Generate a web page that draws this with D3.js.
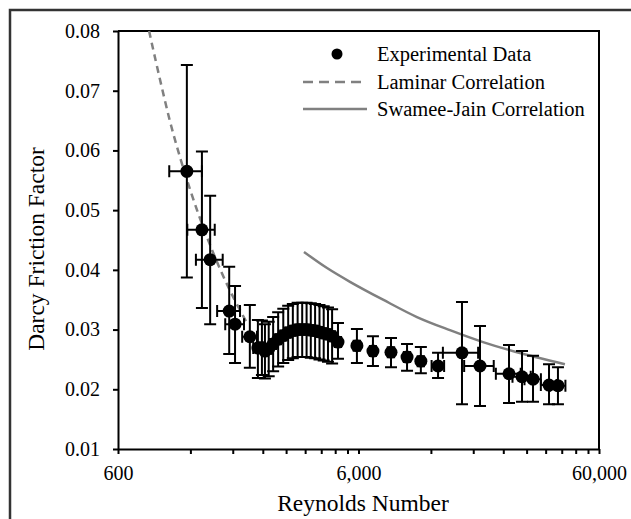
<!DOCTYPE html>
<html>
<head>
<meta charset="utf-8">
<script src="https://cdn.jsdelivr.net/npm/d3@7"></script>
<style>
  body { margin: 0; background: #fff; }
  svg { display: block; font-family: "Liberation Serif", "Times New Roman", serif; }
</style>
</head>
<body>
<div id="chart"></div>
<script>
// values

// experimental data: Reynolds number, friction factor, upper / lower error, +- Re error
var expRe = [1160, 1340, 1450, 1740, 1840, 2120, 2290,
  2380, 2450, 2540, 2650, 2780, 2920, 3060, 3200, 3350, 3500, 3650, 3800, 3960, 4130, 4300, 4480, 4660,
  4930, 5910, 6890, 8190, 9550, 10900, 12850, 16160, 19200, 25350, 28710, 31900, 37180, 40500];
var expF = [0.0565, 0.0467, 0.0417, 0.0331, 0.0309, 0.0288, 0.0269,
  0.0270, 0.0264, 0.0268, 0.0276, 0.0284, 0.0290, 0.0295, 0.0298, 0.0300, 0.0300, 0.0300, 0.0299, 0.0298, 0.0296, 0.0294, 0.0292, 0.0289,
  0.0279, 0.0273, 0.0264, 0.0262, 0.0254, 0.0247, 0.0239, 0.0261, 0.0239, 0.0226, 0.0221, 0.0217, 0.0207, 0.0206];
var expFHigh = [0.0743, 0.0598, 0.0524, 0.0405, 0.0373, 0.0341, 0.0316,
  0.0315, 0.0309, 0.0313, 0.0321, 0.0329, 0.0335, 0.0340, 0.0343, 0.0345, 0.0345, 0.0345, 0.0344, 0.0343, 0.0341, 0.0339, 0.0337, 0.0334,
  0.0311, 0.0301, 0.0289, 0.0286, 0.0276, 0.0271, 0.0261, 0.0346, 0.0306, 0.0274, 0.0264, 0.0256, 0.0242, 0.0237];
var expFLow = [0.0387, 0.0336, 0.0309, 0.0259, 0.0244, 0.0236, 0.0219,
  0.0224, 0.0218, 0.0222, 0.0230, 0.0238, 0.0244, 0.0249, 0.0252, 0.0254, 0.0254, 0.0254, 0.0253, 0.0252, 0.0250, 0.0248, 0.0246, 0.0243,
  0.0251, 0.0244, 0.0239, 0.0237, 0.0231, 0.0227, 0.0219, 0.0175, 0.0172, 0.0177, 0.0179, 0.0179, 0.0175, 0.0175];
var expReErr = [180, 175, 185, 190, 165, 150, 100,
  70, 70, 75, 80, 80, 85, 90, 95, 100, 105, 110, 115, 120, 125, 130, 135, 140,
  150, 180, 200, 250, 290, 330, 770, 2700, 2700, 3000, 2500, 2500, 2800, 3000];

// laminar correlation (dashed)
var lamRe = [808, 1000, 1200, 1400, 1600, 1800, 2080];
var lamF = [0.0800, 0.0640, 0.0533, 0.0457, 0.0400, 0.0356, 0.0308];

// Swamee-Jain correlation (solid)
var sjRe = [3560, 4440, 5530, 7590, 10500, 14400, 19770, 27360, 43300];
var sjF = [0.0430, 0.0403, 0.0380, 0.0350, 0.0321, 0.0299, 0.0279, 0.0262, 0.0242];

var xTicks = [600, 1200, 1800, 2400, 3000, 3600, 4200, 4800, 5400, 6000,
  12000, 18000, 24000, 30000, 36000, 42000, 48000, 54000, 60000];
var xLabels = [600, 6000, 60000];
var yTicks = [0.01, 0.02, 0.03, 0.04, 0.05, 0.06, 0.07, 0.08];

var legendNames = ["Experimental Data", "Laminar Correlation", "Swamee-Jain Correlation"];

var width = 631, height = 519;
var svg = d3.select("#chart").append("svg")
  .attr("width", width)
  .attr("height", height);

// outer frame (cropped on right / bottom)
svg.append("rect")
  .attr("x", 10).attr("y", 10)
  .attr("width", 660).attr("height", 560)
  .attr("fill", "none")
  .attr("stroke", "#333")
  .attr("stroke-width", 2.5);

var x = d3.scaleLog().domain([600, 60000]).range([118, 599]);
var y = d3.scaleLinear().domain([0.01, 0.08]).range([449, 31]);

// plot frame top / right
svg.append("path")
  .attr("d", "M" + x.range()[0] + "," + y.range()[1] + "H" + x.range()[1] + "V" + y.range()[0])
  .attr("fill", "none")
  .attr("stroke", "#000")
  .attr("stroke-width", 2);

var fmtX = d3.format(",");
var xAxis = d3.axisBottom(x)
  .tickValues(xTicks)
  .tickSize(5)
  .tickSizeOuter(0)
  .tickPadding(12)
  .tickFormat(function(d) { return xLabels.indexOf(d) >= 0 ? fmtX(d) : ""; });

var yAxis = d3.axisLeft(y)
  .tickValues(yTicks)
  .tickSize(5)
  .tickSizeOuter(0)
  .tickPadding(13)
  .tickFormat(d3.format(".2f"));

var gx = svg.append("g")
  .attr("transform", "translate(0," + y.range()[0] + ")")
  .call(xAxis);
var gy = svg.append("g")
  .attr("transform", "translate(" + x.range()[0] + ",0)")
  .call(yAxis);

[gx, gy].forEach(function(g) {
  g.attr("font-family", null);
  g.selectAll("path, line").attr("stroke", "#000").attr("stroke-width", 2);
  g.selectAll("text")
    .attr("fill", "#000")
    .style("font-family", "'Liberation Serif', serif")
    .style("font-size", "20px");
});

// axis titles
svg.append("text")
  .attr("x", 363).attr("y", 511)
  .attr("text-anchor", "middle")
  .style("font-size", "23.5px")
  .text("Reynolds Number");

svg.append("text")
  .attr("transform", "translate(44,249) rotate(-90)")
  .attr("text-anchor", "middle")
  .style("font-size", "23.5px")
  .text("Darcy Friction Factor");

// correlation lines
var line = d3.line()
  .x(function(d) { return x(d[0]); })
  .y(function(d) { return y(d[1]); })
  .curve(d3.curveCatmullRom);

svg.append("path")
  .datum(sjRe.map(function(r, i) { return [r, sjF[i]]; }))
  .attr("d", line)
  .attr("fill", "none")
  .attr("stroke", "#808080")
  .attr("stroke-width", 2.5);

svg.append("path")
  .datum(lamRe.map(function(r, i) { return [r, lamF[i]]; }))
  .attr("d", line)
  .attr("fill", "none")
  .attr("stroke", "#808080")
  .attr("stroke-width", 2.5)
  .attr("stroke-dasharray", "7,5");

// error bars
var cap = 6;
var pts = expRe.map(function(r, i) {
  return { re: r, f: expF[i], hi: expFHigh[i], lo: expFLow[i], dr: expReErr[i] };
});

var eb = svg.append("g")
  .attr("stroke", "#000")
  .attr("stroke-width", 2)
  .attr("fill", "none");

pts.forEach(function(d) {
  var cx = x(d.re), cy = y(d.f);
  var p = d3.path();
  // vertical
  p.moveTo(cx, y(d.hi)); p.lineTo(cx, y(d.lo));
  p.moveTo(cx - cap, y(d.hi)); p.lineTo(cx + cap, y(d.hi));
  p.moveTo(cx - cap, y(d.lo)); p.lineTo(cx + cap, y(d.lo));
  // horizontal
  var x0 = x(d.re - d.dr), x1 = x(d.re + d.dr);
  p.moveTo(x0, cy); p.lineTo(x1, cy);
  p.moveTo(x0, cy - cap); p.lineTo(x0, cy + cap);
  p.moveTo(x1, cy - cap); p.lineTo(x1, cy + cap);
  eb.append("path").attr("d", p.toString());
});

svg.append("g").selectAll("circle")
  .data(pts)
  .enter()
  .append("circle")
    .attr("cx", function(d) { return x(d.re); })
    .attr("cy", function(d) { return y(d.f); })
    .attr("r", 6.5)
    .attr("fill", "#000");

// legend
var legend = svg.append("g");
var rowY = [54, 82, 109];

legend.append("circle")
  .attr("cx", 337).attr("cy", rowY[0])
  .attr("r", 5.5)
  .attr("fill", "#000");

legend.append("line")
  .attr("x1", 303).attr("x2", 367)
  .attr("y1", rowY[1]).attr("y2", rowY[1])
  .attr("stroke", "#808080")
  .attr("stroke-width", 2.5)
  .attr("stroke-dasharray", "10,6");

legend.append("line")
  .attr("x1", 303).attr("x2", 367)
  .attr("y1", rowY[2]).attr("y2", rowY[2])
  .attr("stroke", "#808080")
  .attr("stroke-width", 2.5);

legend.selectAll("text")
  .data(legendNames)
  .enter()
  .append("text")
    .attr("x", 377)
    .attr("y", function(d, i) { return rowY[i]; })
    .attr("dy", "0.35em")
    .style("font-size", "20.5px")
    .text(function(d) { return d; });
</script>
</body>
</html>
